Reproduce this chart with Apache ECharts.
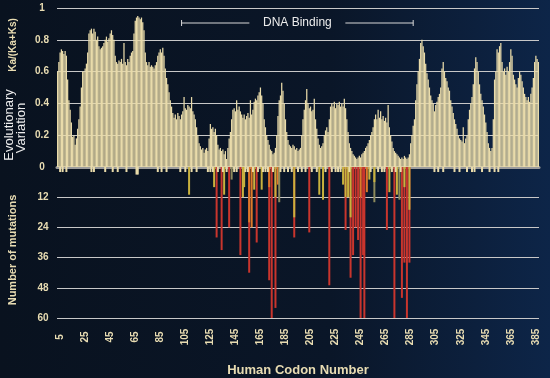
<!DOCTYPE html>
<html>
<head>
<meta charset="utf-8">
<script src="https://cdn.jsdelivr.net/npm/echarts@6/dist/echarts.min.js"></script>
<style>
html,body{margin:0;padding:0;}
body{background:linear-gradient(90deg,#09121f 0%,#0a1628 60%,#0d2548 100%);}
#chart{width:550px;height:378px;}
</style>
</head>
<body>
<div id="chart"></div>
<script>
// codon range on the x axis
var firstCodon = 3, lastCodon = 387;
var codonTicks = [5,25,45,65,85,105,125,145,165,185,205,225,245,265,285,305,325,345,365,385];
var dnaBinding = [102, 287];

// evolutionary variation Ka/(Ka+Ks), one value per codon from 3 to 387
var evolution = [
	0.60,0.66,0.72,0.74,0.73,0.71,0.73,0.70,0.55,0.42,
	0.36,0.28,0.19,0.20,0.14,0.18,0.24,0.30,0.38,0.50,
	0.60,0.60,0.62,0.65,0.72,0.84,0.86,0.87,0.84,0.87,
	0.85,0.80,0.82,0.76,0.74,0.75,0.76,0.78,0.80,0.82,
	0.79,0.81,0.84,0.86,0.83,0.80,0.70,0.66,0.65,0.67,
	0.66,0.68,0.65,0.78,0.66,0.64,0.68,0.66,0.70,0.72,
	0.73,0.84,0.92,0.94,0.95,0.94,0.93,0.94,0.91,0.86,
	0.72,0.66,0.64,0.66,0.63,0.64,0.63,0.62,0.64,0.66,
	0.70,0.72,0.74,0.72,0.75,0.70,0.62,0.56,0.52,0.47,
	0.42,0.38,0.34,0.31,0.33,0.30,0.34,0.32,0.30,0.33,
	0.35,0.44,0.37,0.36,0.39,0.38,0.37,0.44,0.35,0.33,
	0.30,0.25,0.20,0.15,0.13,0.11,0.12,0.09,0.11,0.12,
	0.10,0.18,0.27,0.24,0.25,0.22,0.24,0.20,0.14,0.11,
	0.12,0.10,0.11,0.08,0.10,0.05,0.12,0.18,0.22,0.30,
	0.36,0.37,0.35,0.42,0.36,0.38,0.35,0.33,0.31,0.33,
	0.30,0.32,0.34,0.31,0.42,0.33,0.36,0.41,0.43,0.42,
	0.45,0.47,0.50,0.45,0.40,0.30,0.25,0.20,0.17,0.14,
	0.11,0.10,0.08,0.09,0.12,0.20,0.32,0.42,0.45,0.53,
	0.48,0.40,0.30,0.22,0.17,0.14,0.13,0.12,0.14,0.13,
	0.11,0.12,0.10,0.11,0.12,0.20,0.30,0.36,0.42,0.49,
	0.40,0.37,0.38,0.35,0.36,0.43,0.30,0.24,0.18,0.14,
	0.12,0.13,0.15,0.20,0.23,0.25,0.22,0.30,0.38,0.40,
	0.38,0.41,0.37,0.40,0.39,0.41,0.38,0.40,0.38,0.43,
	0.37,0.30,0.22,0.15,0.12,0.10,0.08,0.07,0.06,0.05,
	0.06,0.07,0.06,0.08,0.09,0.10,0.12,0.13,0.15,0.17,
	0.20,0.22,0.25,0.30,0.33,0.30,0.36,0.31,0.35,0.30,
	0.32,0.29,0.31,0.28,0.39,0.25,0.20,0.16,0.12,0.10,
	0.09,0.08,0.07,0.06,0.05,0.06,0.05,0.07,0.06,0.05,
	0.06,0.08,0.15,0.20,0.26,0.30,0.42,0.52,0.60,0.68,
	0.78,0.80,0.76,0.72,0.65,0.59,0.55,0.50,0.45,0.42,
	0.40,0.35,0.39,0.41,0.44,0.46,0.50,0.62,0.66,0.60,
	0.56,0.54,0.50,0.48,0.42,0.38,0.34,0.30,0.27,0.24,
	0.20,0.18,0.17,0.16,0.25,0.15,0.18,0.20,0.30,0.36,
	0.40,0.44,0.52,0.62,0.69,0.66,0.60,0.52,0.46,0.42,
	0.38,0.33,0.28,0.22,0.15,0.12,0.10,0.12,0.30,0.55,
	0.60,0.74,0.72,0.76,0.78,0.66,0.60,0.62,0.58,0.63,
	0.60,0.66,0.74,0.70,0.58,0.55,0.52,0.50,0.56,0.60,
	0.58,0.54,0.50,0.46,0.44,0.42,0.44,0.41,0.46,0.50,
	0.56,0.66,0.70,0.68,0.66
];

// number of mutations: [codon, count]
var redMut = [[130,28],[134,33],[140,24],[149,35],[156,42],[162,30],[172,45],[174,60],[177,56],
	[192,28],[204,26],[220,47],[233,25],[237,44],[239,35],[241,24],[243,29],[245,60],[247,35],
	[248,60],[266,25],[272,60],[278,52],[280,38],[282,60],[284,38]];
var orangeMut = [[156,22],[158,24],[172,8],[179,7],[245,12],[250,10]];
var yellowMut = [[108,11],[128,8],[136,11],[151,12],[152,8],[160,9],[166,9],[177,12],[192,20],
	[212,11],[215,13],[231,7],[233,12],[235,12],[237,20],[252,5],[256,6],[268,10],[274,11],
	[280,8],[284,17]];
var oliveMut = [[142,5],[180,14],[256,14],[276,13]];
var beigeMut = [[5,2],[7,2],[10,2],[30,2],[32,2],[41,2],[47,2],[51,2],[58,2],[66,3],[67,3],
	[83,2],[86,2],[90,2],[101,2],[105,2],[110,2],[114,2],[123,2],[125,2],[127,2],[131,2],
	[135,2],[138,2],[144,2],[146,2],[153,2],[155,2],[159,2],[163,2],[167,2],[169,2],[171,2],
	[175,2],[181,2],[184,2],[187,2],[190,2],[195,2],[198,2],[201,2],[206,2],[210,2],[217,2],
	[222,2],[225,2],[227,2],[229,2],[236,2],[253,2],[259,2],[262,2],[264,2],[270,2],[273,2],
	[277,2],[304,2],[307,2],[311,2],[320,2],[324,2],[330,2],[334,2],[336,2],[342,2],[348,2],
	[352,2],[355,2]];

var codons = [];
for (var c = firstCodon; c <= lastCodon; c++) codons.push(String(c));

function toBars(list){
	return list.map(function(p){ return [p[0] - firstCodon, p[1]]; });
}

var labelColor = '#e8dcb2';
var gridColor = '#c8c8c8';
var font = 'Liberation Sans';

var chart = echarts.init(document.getElementById('chart'));
var option = {
	backgroundColor: 'transparent',
	animation: false,
	textStyle: {fontFamily: font},
	grid: [
		{left: 57, right: 11, top: 8, height: 159},
		{left: 57, right: 11, top: 167, height: 158}
	],
	xAxis: [{
		type: 'category', gridIndex: 0, data: codons,
		axisLine: {show: true, lineStyle: {color: '#9c9c9c', width: 3}},
		axisTick: {show: false}, axisLabel: {show: false}, splitLine: {show: false}
	}, {
		type: 'category', gridIndex: 1, data: codons,
		axisLine: {show: false}, axisTick: {show: false}, splitLine: {show: false},
		axisLabel: {
			rotate: 90, align: 'center', margin: 19,
			color: labelColor, fontWeight: 'bold', fontSize: 10, fontFamily: font,
			interval: function(i, v){ return codonTicks.indexOf(+v) >= 0; }
		},
		name: 'Human Codon Number', nameLocation: 'middle', nameGap: 46,
		nameTextStyle: {color: labelColor, fontWeight: 'bold', fontSize: 13, fontFamily: font}
	}],
	yAxis: [{
		type: 'value', gridIndex: 0, min: 0, max: 1, interval: 0.2,
		axisLine: {show: false}, axisTick: {show: false},
		splitLine: {lineStyle: {color: gridColor, width: 1}},
		axisLabel: {
			align: 'center', margin: 15, color: labelColor, fontWeight: 'bold', fontSize: 10,
			formatter: function(v){ return (v === 0 || v === 1) ? String(v) : v.toFixed(1); }
		}
	}, {
		type: 'value', gridIndex: 1, min: 0, max: 60, interval: 12, inverse: true,
		axisLine: {show: false}, axisTick: {show: false},
		splitLine: {lineStyle: {color: gridColor, width: 1}},
		axisLabel: {
			align: 'center', margin: 14, color: labelColor, fontWeight: 'bold', fontSize: 10,
			formatter: function(v){ return v === 0 ? '' : String(v); }
		}
	}],
	series: [{
		name: 'evolution', type: 'bar', xAxisIndex: 0, yAxisIndex: 0,
		data: evolution, barCategoryGap: '0%',
		itemStyle: {color: '#e9dbaa'}
	}, {
		name: 'red', type: 'bar', xAxisIndex: 1, yAxisIndex: 1,
		data: toBars(redMut), barWidth: 2, barGap: '-100%',
		itemStyle: {color: '#c9352d'}
	}, {
		name: 'orange', type: 'bar', xAxisIndex: 1, yAxisIndex: 1,
		data: toBars(orangeMut), barWidth: 2, barGap: '-100%',
		itemStyle: {color: '#dc7a2a'}
	}, {
		name: 'olive', type: 'bar', xAxisIndex: 1, yAxisIndex: 1,
		data: toBars(oliveMut), barWidth: 2, barGap: '-100%',
		itemStyle: {color: '#8c8a5c'}
	}, {
		name: 'yellow', type: 'bar', xAxisIndex: 1, yAxisIndex: 1,
		data: toBars(yellowMut), barWidth: 2, barGap: '-100%',
		itemStyle: {color: '#c9b23e'}
	}, {
		name: 'beige', type: 'bar', xAxisIndex: 1, yAxisIndex: 1,
		data: toBars(beigeMut), barWidth: 2, barGap: '-100%',
		itemStyle: {color: '#e9dbaa'}
	}]
};
chart.setOption(option);

// DNA binding bracket and the rotated axis titles
var x0 = chart.convertToPixel({xAxisIndex: 0}, dnaBinding[0] - firstCodon);
var x1 = chart.convertToPixel({xAxisIndex: 0}, dnaBinding[1] - firstCodon);
var mid = (x0 + x1) / 2, by = 23;
chart.setOption({
	graphic: [
		{type: 'line', shape: {x1: x0, y1: by, x2: mid - 48, y2: by}, style: {stroke: '#d8d8d8', lineWidth: 1}},
		{type: 'line', shape: {x1: x0, y1: by - 3, x2: x0, y2: by + 3}, style: {stroke: '#d8d8d8', lineWidth: 1}},
		{type: 'line', shape: {x1: mid + 48, y1: by, x2: x1, y2: by}, style: {stroke: '#d8d8d8', lineWidth: 1}},
		{type: 'line', shape: {x1: x1, y1: by - 3, x2: x1, y2: by + 3}, style: {stroke: '#d8d8d8', lineWidth: 1}},
		{type: 'text', x: mid, y: by, style: {text: 'DNA Binding', fill: '#ececec', font: '12px "Liberation Sans"', align: 'center', verticalAlign: 'middle'}},
		{type: 'text', x: 13, y: 45, rotation: Math.PI / 2, style: {text: 'Ka/(Ka+Ks)', fill: labelColor, font: 'bold 10px "Liberation Sans"', align: 'center', verticalAlign: 'middle'}},
		{type: 'text', x: 9, y: 125, rotation: Math.PI / 2, style: {text: 'Evolutionary', fill: '#eeeeee', font: '13px "Liberation Sans"', align: 'center', verticalAlign: 'middle'}},
		{type: 'text', x: 21, y: 128, rotation: Math.PI / 2, style: {text: 'Variation', fill: '#eeeeee', font: '13px "Liberation Sans"', align: 'center', verticalAlign: 'middle'}},
		{type: 'text', x: 13, y: 250, rotation: Math.PI / 2, style: {text: 'Number of mutations', fill: labelColor, font: 'bold 11px "Liberation Sans"', align: 'center', verticalAlign: 'middle'}}
	]
});
window.addEventListener('resize', function(){ chart.resize(); });
</script>
</body>
</html>
